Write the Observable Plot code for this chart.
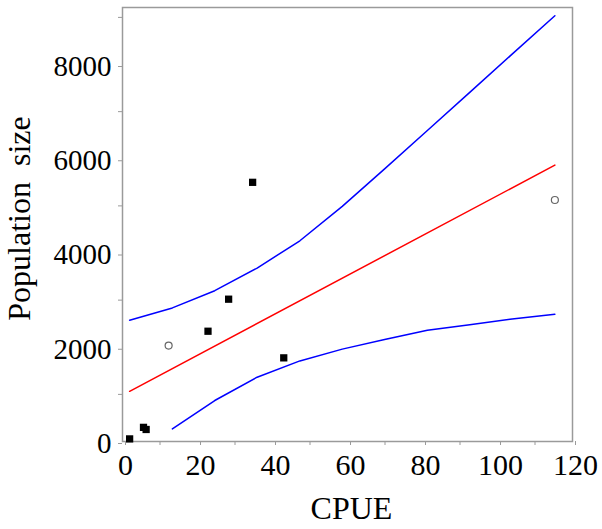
<!DOCTYPE html>
<html>
<head>
<meta charset="utf-8">
<script src="https://cdn.jsdelivr.net/npm/d3@7"></script>
<script src="https://cdn.jsdelivr.net/npm/@observablehq/plot@0.6"></script>
<style>
  html, body { margin: 0; padding: 0; background: #fff; }
  #chart svg { display: block; }
</style>
</head>
<body>
<div id="chart"></div>
<script>
// Observed data (filled squares)
const cpueFilled = [1.9, 5.6, 6.3, 22.8, 28.3, 34.7, 43.0];
const popFilled  = [55, 300, 255, 2340, 3020, 5500, 1775];
// Open circles
const cpueOpen = [12.3, 115.3];
const popOpen  = [2035, 5125];
// Fitted regression line (red)
const fitX = [1.9, 115.3];
const fitY = [1065, 5865];
// Confidence band (blue)
const bandX = [1.9, 13.3, 24.6, 35.9, 47.3, 58.6, 69.9, 81.3, 92.6, 103.9, 115.3];
const upperY = [2575, 2835, 3200, 3680, 4260, 4990, 5785, 6600, 7410, 8220, 9035];
const lowerX = [13.3, 24.6, 35.9, 47.3, 58.6, 69.9, 81.3, 92.6, 103.9, 115.3];
const lowerY = [267, 870, 1365, 1710, 1960, 2165, 2360, 2480, 2600, 2700];
// Ticks
const xMajor = [0, 20, 40, 60, 80, 100, 120];
const xMinor = [10, 30, 50, 70, 90, 110];
const yMajor = [0, 2000, 4000, 6000, 8000];
const yMinor = [1000, 3000, 5000, 7000, 9000];
const xTitle = "CPUE";
const yTitle = "Population\u00a0 size";

const filled = cpueFilled.map((x, i) => ({x, y: popFilled[i]}));
const open = cpueOpen.map((x, i) => ({x, y: popOpen[i]}));
const fit = fitX.map((x, i) => ({x, y: fitY[i]}));
const upper = bandX.map((x, i) => ({x, y: upperY[i]}));
const lower = lowerX.map((x, i) => ({x, y: lowerY[i]}));

const gray = "#9a9a9a";
const chart = Plot.plot({
  width: 602,
  height: 529,
  marginLeft: 122,
  marginRight: 30,
  marginTop: 7,
  marginBottom: 88,
  style: {fontFamily: "'Liberation Serif', 'Times New Roman', serif", background: "#fff", color: "#000"},
  x: {domain: [0, 120]},
  y: {domain: [0, 9210]},
  marks: [
    Plot.axisX(xMinor, {tickSize: 4, stroke: gray, fill: "none", label: null}),
    Plot.axisY(yMinor, {tickSize: 4, stroke: gray, fill: "none", label: null}),
    Plot.axisX(xMajor, {tickSize: 4, tickPadding: 8, stroke: gray, fill: "#000", fontSize: 30, dx: 3, label: null, tickFormat: d3.format("d")}),
    Plot.axisY(yMajor, {tickSize: 4, tickPadding: 7, stroke: gray, fill: "#000", fontSize: 29, dy: 2, label: null, tickFormat: d3.format("d")}),
    Plot.frame({stroke: gray, strokeWidth: 1.5}),
    Plot.line(upper, {x: "x", y: "y", stroke: "#0000ff", strokeWidth: 1.5}),
    Plot.line(lower, {x: "x", y: "y", stroke: "#0000ff", strokeWidth: 1.5}),
    Plot.line(fit, {x: "x", y: "y", stroke: "#ff0000", strokeWidth: 1.5}),
    Plot.dot(filled, {x: "x", y: "y", symbol: "square", fill: "#000", r: 4.1}),
    Plot.dot(open, {x: "x", y: "y", symbol: "circle", fill: "none", stroke: "#666", strokeWidth: 1.2, r: 3.5}),
    Plot.text([xTitle], {frameAnchor: "bottom", lineAnchor: "top", textAnchor: "middle", dy: 55, dx: 4, fontSize: 32, fill: "#000"}),
    Plot.text([yTitle], {frameAnchor: "left", lineAnchor: "top", textAnchor: "middle", rotate: -90, dx: -115, dy: -6, fontSize: 32, fill: "#000"})
  ]
});
document.getElementById("chart").appendChild(chart);
</script>
</body>
</html>
